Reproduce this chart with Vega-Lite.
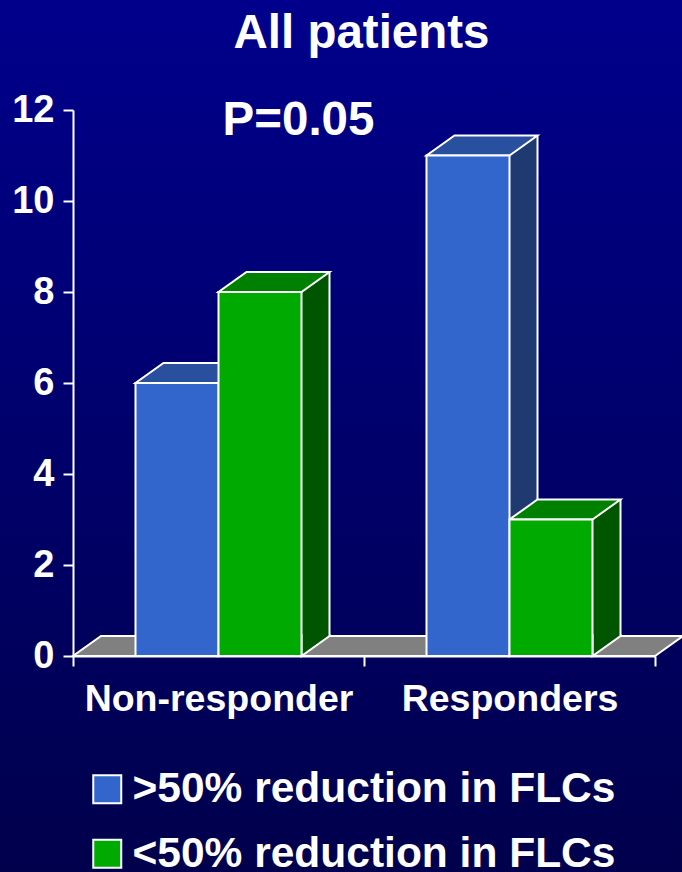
{
  "$schema": "https://vega.github.io/schema/vega-lite/v6.json",
  "width": 682,
  "height": 872,
  "autosize": "none",
  "padding": 0,
  "background": "#00004C",
  "config": {
    "font": "Liberation Sans",
    "view": {
      "stroke": null,
      "fill": {
        "gradient": "linear",
        "x1": 0, "y1": 0, "x2": 0, "y2": 1,
        "stops": [
          {"offset": 0, "color": "#00008C"},
          {"offset": 1, "color": "#00004C"}
        ]
      }
    },
    "axis": {
      "labelFont": "Liberation Sans",
      "labelFontWeight": "bold",
      "labelColor": "white",
      "domainColor": "white",
      "domainWidth": 2,
      "tickColor": "white",
      "tickWidth": 2,
      "grid": false,
      "title": null
    }
  },
  "data": {
    "values": [
      {"group": "Non-responder", "series": ">50% reduction in FLCs", "value": 6},
      {"group": "Non-responder", "series": "<50% reduction in FLCs", "value": 8},
      {"group": "Responders", "series": ">50% reduction in FLCs", "value": 11},
      {"group": "Responders", "series": "<50% reduction in FLCs", "value": 3}
    ]
  },
  "layer": [
    {
      "data": {"values": [{"part": "floor"}]},
      "mark": {
        "type": "point",
        "shape": "M -145.5 0 L 436.5 0 L 464.5 -20 L -117.5 -20 Z",
        "size": 4,
        "filled": true,
        "fill": "#808080",
        "stroke": "white",
        "strokeWidth": 2,
        "opacity": 1
      },
      "encoding": {
        "x": {
          "datum": "Non-responder",
          "type": "nominal",
          "scale": {"domain": ["Non-responder", "Responders"], "range": [73, 655], "paddingInner": 0, "paddingOuter": 0},
          "axis": {
            "orient": "bottom",
            "offset": -216,
            "tickBand": "extent",
            "tickSize": 10,
            "labelPadding": 14,
            "labelFontSize": 37.5,
            "labelAngle": 0,
            "labelLimit": 0,
            "labelOverlap": false
          }
        },
        "y": {
          "datum": 0,
          "type": "quantitative",
          "scale": {"domain": [0, 12], "range": [656, 110], "nice": false, "zero": true},
          "axis": {
            "orient": "left",
            "offset": -73,
            "values": [0, 2, 4, 6, 8, 10, 12],
            "format": "d",
            "tickSize": 10,
            "labelPadding": 9,
            "labelFontSize": 38
          }
        }
      }
    },
    {
      "transform": [{"filter": "datum.series === '>50% reduction in FLCs'"}],
      "mark": {"type": "rule", "strokeWidth": 28, "strokeCap": "butt", "color": "#1E3A70", "xOffset": 14, "yOffset": -20, "y2Offset": -20},
      "encoding": {
        "x": {"field": "group", "type": "nominal"},
        "y": {"field": "value", "type": "quantitative"},
        "y2": {"datum": 0}
      }
    },
    {
      "transform": [{"filter": "datum.series === '<50% reduction in FLCs'"}],
      "mark": {"type": "rule", "strokeWidth": 28, "strokeCap": "butt", "color": "#005500", "xOffset": 97, "yOffset": -20, "y2Offset": -20},
      "encoding": {
        "x": {"field": "group", "type": "nominal"},
        "y": {"field": "value", "type": "quantitative"},
        "y2": {"datum": 0}
      }
    },
    {
      "transform": [{"filter": "datum.series === '>50% reduction in FLCs'"}],
      "mark": {"type": "rule", "strokeWidth": 2, "color": "white", "xOffset": 28, "yOffset": -20, "y2Offset": -20},
      "encoding": {
        "x": {"field": "group", "type": "nominal"},
        "y": {"field": "value", "type": "quantitative"},
        "y2": {"datum": 0}
      }
    },
    {
      "transform": [{"filter": "datum.series === '<50% reduction in FLCs'"}],
      "mark": {"type": "rule", "strokeWidth": 2, "color": "white", "xOffset": 111, "yOffset": -20, "y2Offset": -20},
      "encoding": {
        "x": {"field": "group", "type": "nominal"},
        "y": {"field": "value", "type": "quantitative"},
        "y2": {"datum": 0}
      }
    },
    {
      "mark": {
        "type": "point",
        "shape": "M 69.5 -22 L 69.5 -20 L 41.5 0 L 41.5 -22",
        "size": 4,
        "filled": true,
        "stroke": "white",
        "strokeWidth": 2,
        "opacity": 1
      },
      "encoding": {
        "x": {"field": "group", "type": "nominal"},
        "xOffset": {
          "field": "series",
          "type": "nominal",
          "scale": {"domain": [">50% reduction in FLCs", "<50% reduction in FLCs"], "paddingInner": 0, "paddingOuter": 0.753}
        },
        "y": {"datum": 0, "type": "quantitative"},
        "fill": {
          "condition": {"test": "datum.series === '>50% reduction in FLCs'", "value": "#1E3A70"},
          "value": "#005500"
        }
      }
    },
    {
      "mark": {
        "type": "point",
        "shape": "M -41.5 0 L 41.5 0 L 69.5 -20 L -13.5 -20 Z",
        "size": 4,
        "filled": true,
        "stroke": "white",
        "strokeWidth": 2,
        "opacity": 1
      },
      "encoding": {
        "x": {"field": "group", "type": "nominal"},
        "xOffset": {"field": "series", "type": "nominal"},
        "y": {"field": "value", "type": "quantitative"},
        "fill": {
          "condition": {"test": "datum.series === '>50% reduction in FLCs'", "value": "#28509E"},
          "value": "#008000"
        }
      }
    },
    {
      "mark": {"type": "bar", "stroke": "white", "strokeWidth": 2, "opacity": 1},
      "encoding": {
        "x": {"field": "group", "type": "nominal"},
        "xOffset": {"field": "series", "type": "nominal"},
        "y": {"field": "value", "type": "quantitative"},
        "y2": {"datum": 0},
        "color": {
          "field": "series",
          "type": "nominal",
          "scale": {"domain": [">50% reduction in FLCs", "<50% reduction in FLCs"], "range": ["#3366CC", "#00AA00"]},
          "legend": {
            "orient": "none",
            "legendX": 86,
            "legendY": 768,
            "direction": "vertical",
            "title": null,
            "padding": 0,
            "symbolType": "square",
            "symbolSize": 784,
            "symbolStrokeColor": "white",
            "symbolStrokeWidth": 2,
            "symbolOpacity": 1,
            "labelFont": "Liberation Sans",
            "labelFontWeight": "bold",
            "labelFontSize": 42.5,
            "labelColor": "white",
            "labelOffset": 4,
            "labelLimit": 0,
            "rowPadding": 21.5
          }
        }
      }
    },
    {
      "data": {"values": [{"note": "All patients"}]},
      "mark": {
        "type": "text",
        "dx": 143,
        "align": "center",
        "baseline": "alphabetic",
        "font": "Liberation Sans",
        "fontSize": 47.5,
        "fontWeight": "bold",
        "color": "white"
      },
      "encoding": {
        "x": {"datum": "Non-responder", "type": "nominal"},
        "y": {"datum": 13.36, "type": "quantitative"},
        "text": {"field": "note", "type": "nominal"}
      }
    },
    {
      "data": {"values": [{"note": "P=0.05"}]},
      "mark": {
        "type": "text",
        "dx": 80,
        "align": "center",
        "baseline": "middle",
        "font": "Liberation Sans",
        "fontSize": 47.5,
        "fontWeight": "bold",
        "color": "white"
      },
      "encoding": {
        "x": {"datum": "Non-responder", "type": "nominal"},
        "y": {"datum": 11.75, "type": "quantitative"},
        "text": {"field": "note", "type": "nominal"}
      }
    }
  ]
}
